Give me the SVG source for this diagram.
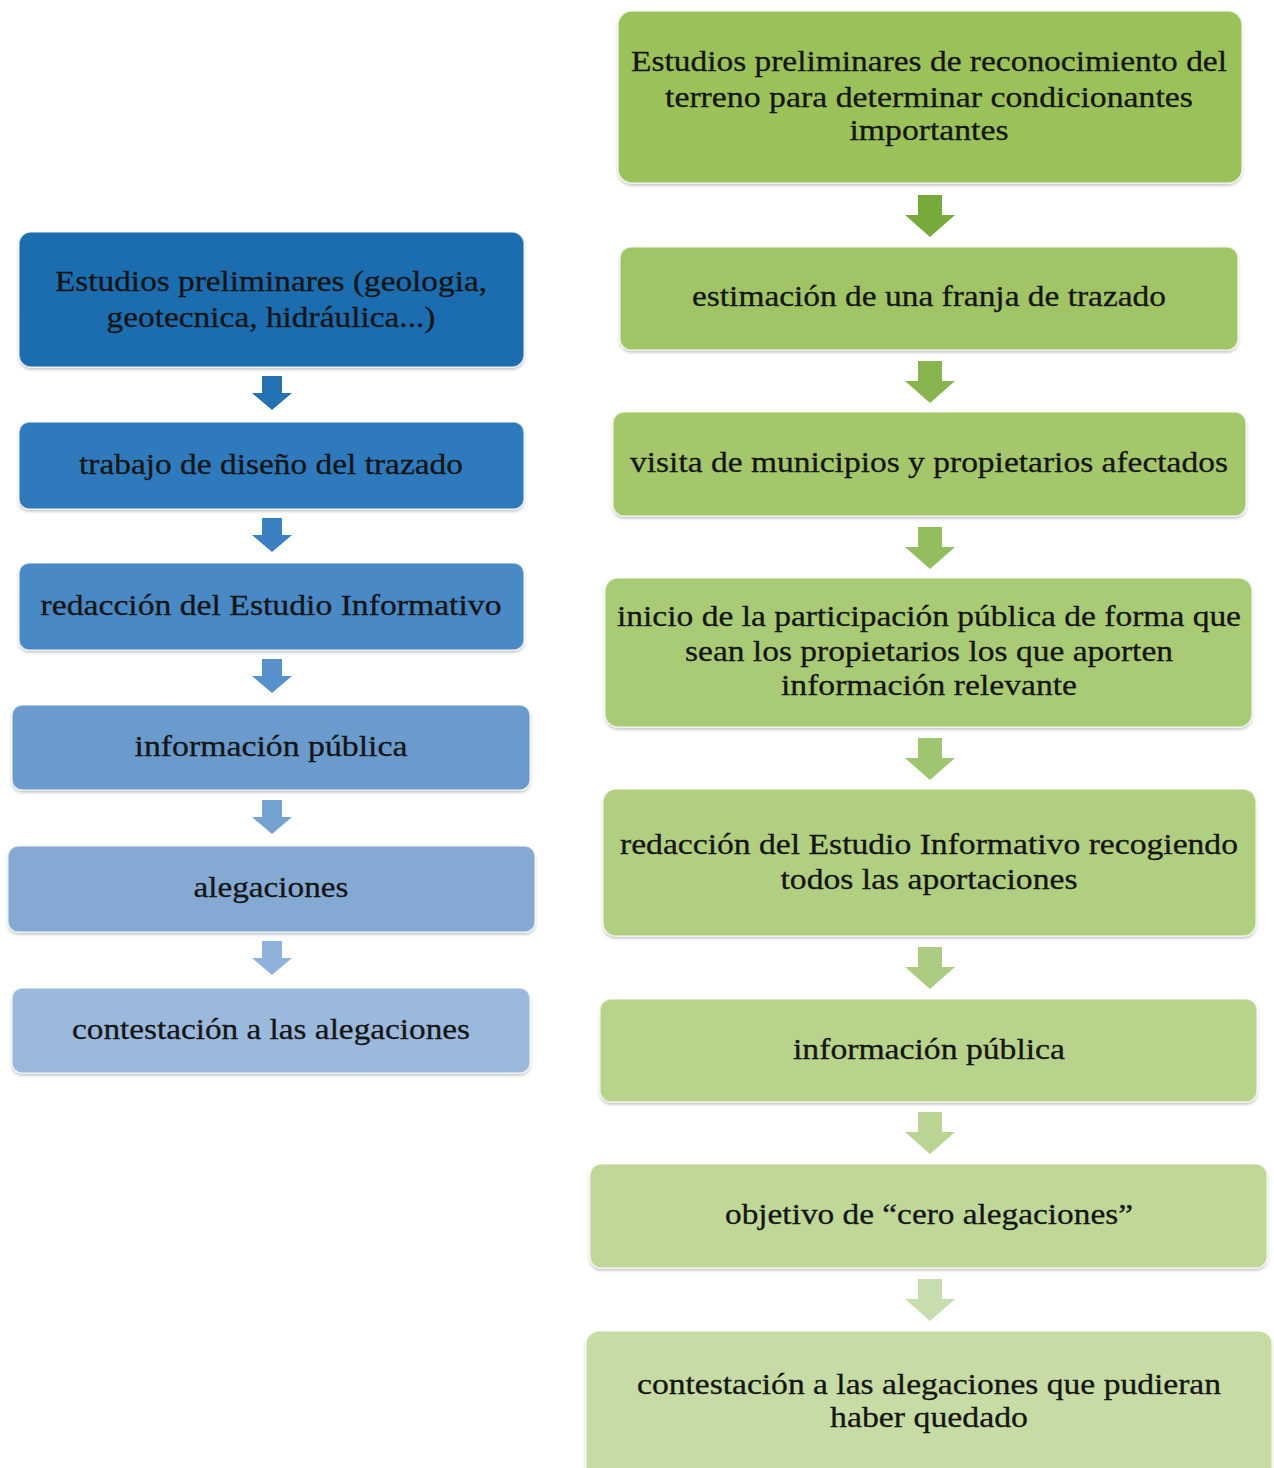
<svg xmlns="http://www.w3.org/2000/svg" width="1274" height="1468" viewBox="0 0 1274 1468">
<defs>
<style>
.t{font-size:30px;fill:#151515;stroke:#151515;stroke-width:0.3;text-anchor:middle}
.box{stroke:#ffffff;stroke-opacity:0.6;stroke-width:1.5}
</style>
<filter id="sh" x="-5%" y="-5%" width="110%" height="115%">
<feGaussianBlur in="SourceAlpha" stdDeviation="1.5"/>
<feOffset dx="0" dy="1.5" result="b"/>
<feComponentTransfer><feFuncA type="linear" slope="0.25"/></feComponentTransfer>
<feMerge><feMergeNode/><feMergeNode in="SourceGraphic"/></feMerge>
</filter>
<path id="ab" d="M-10,0 H10 V17 H20 L0,34 L-20,17 H-10 Z"/>
<path id="ag" d="M-12,0 H12 V20 H25 L0,42 L-25,20 H-12 Z"/>
</defs>
<rect width="1274" height="1468" fill="#ffffff"/>

<g id="connectors">
<use href="#ab" x="272" y="376" fill="#2572b3"/>
<use href="#ab" x="272" y="518" fill="#3b81c1"/>
<use href="#ab" x="272" y="659" fill="#5791c9"/>
<use href="#ab" x="272" y="800" fill="#74a2d1"/>
<use href="#ab" x="272" y="941" fill="#8fb2da"/>
<use href="#ag" x="930" y="195" fill="#78a93b"/>
<use href="#ag" x="930" y="361" fill="#87b44e"/>
<use href="#ag" x="930" y="527" fill="#94bd60"/>
<use href="#ag" x="930" y="738" fill="#a0c571"/>
<use href="#ag" x="930" y="947" fill="#accc82"/>
<use href="#ag" x="930" y="1112" fill="#b9d493"/>
<use href="#ag" x="930" y="1279" fill="#c8ddad"/>
</g>

<g font-family="'Liberation Serif', 'Times New Roman', Tinos, serif">
<g id="b1"><rect class="box" filter="url(#sh)" x="19" y="232" width="505" height="135" rx="12" fill="#1f6db0"/>
<text class="t" x="271" y="291" textLength="432" lengthAdjust="spacingAndGlyphs">Estudios preliminares (geologia,</text>
<text class="t" x="271" y="327" textLength="329" lengthAdjust="spacingAndGlyphs">geotecnica, hidráulica...)</text></g>
<g id="b2"><rect class="box" filter="url(#sh)" x="19" y="422" width="505" height="87" rx="10" fill="#2f7abd"/>
<text class="t" x="271" y="474" textLength="384" lengthAdjust="spacingAndGlyphs">trabajo de diseño del trazado</text></g>
<g id="b3"><rect class="box" filter="url(#sh)" x="19" y="563" width="505" height="87" rx="10" fill="#4a89c5"/>
<text class="t" x="271" y="615" textLength="461" lengthAdjust="spacingAndGlyphs">redacción del Estudio Informativo</text></g>
<g id="b4"><rect class="box" filter="url(#sh)" x="12" y="705" width="518" height="85" rx="10" fill="#6a9bcc"/>
<text class="t" x="271" y="756" textLength="273" lengthAdjust="spacingAndGlyphs">información pública</text></g>
<g id="b5"><rect class="box" filter="url(#sh)" x="8" y="846" width="527" height="86" rx="10" fill="#84aad4"/>
<text class="t" x="271" y="897" textLength="155" lengthAdjust="spacingAndGlyphs">alegaciones</text></g>
<g id="b6"><rect class="box" filter="url(#sh)" x="12" y="988" width="518" height="85" rx="10" fill="#9bb9dd"/>
<text class="t" x="271" y="1039" textLength="398" lengthAdjust="spacingAndGlyphs">contestación a las alegaciones</text></g>

<g id="g1"><rect class="box" filter="url(#sh)" x="618" y="11" width="624" height="172" rx="14" fill="#9bc25a"/>
<text class="t" x="929" y="71" textLength="596" lengthAdjust="spacingAndGlyphs">Estudios preliminares de reconocimiento del</text>
<text class="t" x="929" y="107" textLength="528" lengthAdjust="spacingAndGlyphs">terreno para determinar condicionantes</text>
<text class="t" x="929" y="140" textLength="159" lengthAdjust="spacingAndGlyphs">importantes</text></g>
<g id="g2"><rect class="box" filter="url(#sh)" x="620" y="247" width="618" height="103" rx="11" fill="#a1c566"/>
<text class="t" x="929" y="306" textLength="474" lengthAdjust="spacingAndGlyphs">estimación de una franja de trazado</text></g>
<g id="g3"><rect class="box" filter="url(#sh)" x="613" y="412" width="633" height="104" rx="11" fill="#a5c76c"/>
<text class="t" x="929" y="472" textLength="598" lengthAdjust="spacingAndGlyphs">visita de municipios y propietarios afectados</text></g>
<g id="g4"><rect class="box" filter="url(#sh)" x="605" y="578" width="647" height="149" rx="13" fill="#aacb76"/>
<text class="t" x="929" y="626" textLength="624" lengthAdjust="spacingAndGlyphs">inicio de la participación pública de forma que</text>
<text class="t" x="929" y="661" textLength="488" lengthAdjust="spacingAndGlyphs">sean los propietarios los que aporten</text>
<text class="t" x="929" y="695" textLength="296" lengthAdjust="spacingAndGlyphs">información relevante</text></g>
<g id="g5"><rect class="box" filter="url(#sh)" x="603" y="789" width="653" height="147" rx="13" fill="#b1cf81"/>
<text class="t" x="929" y="854" textLength="618" lengthAdjust="spacingAndGlyphs">redacción del Estudio Informativo recogiendo</text>
<text class="t" x="929" y="889" textLength="297" lengthAdjust="spacingAndGlyphs">todos las aportaciones</text></g>
<g id="g6"><rect class="box" filter="url(#sh)" x="600" y="999" width="657" height="103" rx="11" fill="#b8d38c"/>
<text class="t" x="929" y="1059" textLength="272" lengthAdjust="spacingAndGlyphs">información pública</text></g>
<g id="g7"><rect class="box" filter="url(#sh)" x="590" y="1164" width="677" height="104" rx="11" fill="#bfd897"/>
<text class="t" x="929" y="1224" textLength="408" lengthAdjust="spacingAndGlyphs">objetivo de “cero alegaciones”</text></g>
<g id="g8"><rect class="box" filter="url(#sh)" x="586" y="1331" width="686" height="150" rx="13" fill="#c6dca4"/>
<text class="t" x="929" y="1394" textLength="584" lengthAdjust="spacingAndGlyphs">contestación a las alegaciones que pudieran</text>
<text class="t" x="929" y="1427" textLength="198" lengthAdjust="spacingAndGlyphs">haber quedado</text></g>
</g>
</svg>
